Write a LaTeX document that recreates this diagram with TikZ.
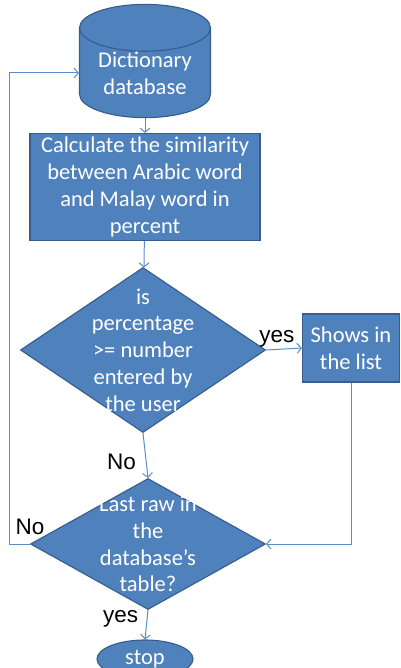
\documentclass[tikz,border=0pt]{standalone}
\usepackage{fontspec}
\setmainfont{Carlito}
\newfontfamily\arialfont{Liberation Sans}
\usetikzlibrary{shapes.geometric, arrows.meta, positioning}
\definecolor{boxblue}{HTML}{4F81BD}
\definecolor{boxedge}{HTML}{385D8A}
\definecolor{lineblue}{HTML}{5B8BC9}

\begin{document}
\begin{tikzpicture}[
  x=0.025cm, y=-0.025cm,
  shapebox/.style={draw=boxedge, fill=boxblue, line width=0.8pt, inner sep=0pt},
  proc/.style={shapebox, rectangle, text=white, align=center, font=\fontsize{16}{19}\selectfont},
  db/.style={shapebox, cylinder, shape border rotate=90, aspect=0.5, text=white, align=center, font=\fontsize{16}{19}\selectfont},
  dec/.style={shapebox, diamond},
  dectext/.style={text=white, align=center, font=\fontsize{16}{19}\selectfont, inner sep=0pt},
  term/.style={shapebox, ellipse, text=white, font=\fontsize{16}{19}\selectfont},
  lbl/.style={font=\arialfont\fontsize{16}{18}\selectfont, inner sep=1pt},
  flow/.style={draw=lineblue, line width=0.7pt, -{Straight Barb[length=3pt, width=7pt]}},
]
\useasboundingbox (0,0) rectangle (400,668);

% === Nodes ===
\node[db, minimum width=3.275cm, minimum height=2.48cm] (dict) at (145,73) {Dictionary\\database};
\node[proc, minimum width=5.75cm, minimum height=2.675cm] (calc) at (145,187)
  {Calculate the similarity\\between Arabic word\\and Malay word in\\percent};
\node[dec, minimum width=6.125cm, minimum height=4.125cm] (check) at (143,350) {};
\node[dectext] (checktxt) at (check.center) {is\\percentage\\>= number\\entered by\\the user};
\node[proc, minimum width=2.425cm, minimum height=1.7cm] (show) at (351,348) {Shows in\\the list};
\node[dec, minimum width=5.875cm, minimum height=3.275cm] (last) at (148,544) {};
\node[dectext] (lasttxt) at (last.center) {Last raw in\\the\\database’s\\table?};
\node[term, minimum width=2.4cm, minimum height=0.95cm] (stop) at (145,659) {stop};

% === Arrows ===
\draw[flow] (dict) -- (calc);
\draw[flow] (calc) -- (check);
\draw[flow] (check.east) -- node[lbl, above, pos=0.3]{yes} (show.west);
\draw[flow] (check.south) -- node[lbl, left=6pt, pos=0.65]{No} (last.north);
\draw[flow] (show.south) |- (last.east);
\draw[flow] (last.south) -- node[lbl, left=5pt, pos=0.3]{yes} (stop.north);
\draw[flow] (last.west) -- node[lbl, above=5pt, pos=0]{No} ++(-20,0) |- (dict.west);
\end{tikzpicture}
\end{document}
